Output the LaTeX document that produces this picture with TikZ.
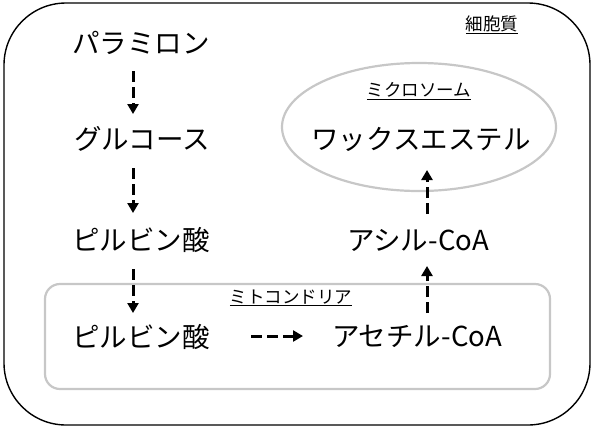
\documentclass[tikz,border=0pt]{standalone}
\usepackage{fontspec}
\setmainfont{Noto Sans CJK JP}
\usetikzlibrary{arrows.meta}
\tikzset{
  big/.style={font=\fontsize{27.5pt}{30pt}\selectfont, inner sep=0pt},
  small/.style={font=\fontsize{17.5pt}{20pt}\selectfont, inner sep=0pt},
  flow/.style={line width=3pt, dash pattern=on 11pt off 5pt, -{Triangle[length=10pt,width=11pt]}},
  membrane/.style={line width=2.2pt, draw=black!22},
}
\begin{document}
\begin{tikzpicture}[x=1pt,y=-1pt]
\useasboundingbox (0,0) rectangle (594,429);
% cytoplasm
\draw[line width=1.4pt, rounded corners=62pt] (4,3) rectangle (590,425);
\node[small] (cyto) at (492,25) {\underline{細胞質}};
% microsome
\draw[membrane] (419,127) ellipse [x radius=137, y radius=64];
\node[small] (micro) at (419,91) {\underline{ミクロソーム}};
% mitochondria
\draw[membrane, rounded corners=15pt] (45,284) rectangle (550,389);
\node[small] (mito) at (291,298) {\underline{ミトコンドリア}};
% metabolites
\node[big] (para) at (141,42.5) {パラミロン};
\node[big] (glc) at (142,138.5) {グルコース};
\node[big] (pyr1) at (141,240) {ピルビン酸};
\node[big] (pyr2) at (141,337) {ピルビン酸};
\node[big] (acet) at (417,336) {アセチル-CoA};
\node[big] (acyl) at (418,240) {アシル-CoA};
\node[big] (wax) at (421,139) {ワックスエステル};
% arrows
\draw[flow] (133,71) -- (133,114);
\draw[flow] (133,168) -- (133,213);
\draw[flow] (133,269) -- (133,313);
\draw[flow] (251,336) -- (303,336);
\draw[flow] (427,313) -- (427,266);
\draw[flow] (427,214) -- (427,170);
\end{tikzpicture}
\end{document}
